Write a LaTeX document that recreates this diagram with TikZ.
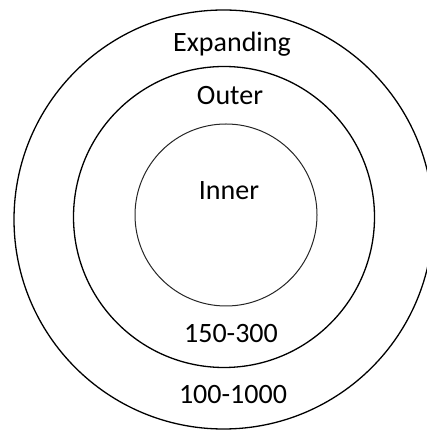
\documentclass[tikz,border=0pt]{standalone}
\usepackage{fontspec}
\setmainfont{Carlito}
\usetikzlibrary{positioning}

\begin{document}
\begin{tikzpicture}[x=1pt, y=1pt]
    \tikzset{
        ringstyle/.style={draw, circle, inner sep=0pt, line width=1.3pt},
        labelstyle/.style={anchor=base, inner sep=0pt, font=\fontsize{28}{34}\selectfont}
    }
    \useasboundingbox (0,0) rectangle (426,430);

    % rings
    \node[ringstyle, minimum size=419pt] (expanding) at (223.5,210.5) {};
    \node[ringstyle, minimum size=301pt] (outer) at (224,213) {};
    \node[ringstyle, line width=1pt, draw=black!85, minimum size=182pt] (inner) at (226,215) {};

    % labels
    \node[labelstyle] (expandname) at (232,378) {Expanding};
    \node[labelstyle] (outername) at (230,325) {Outer};
    \node[labelstyle] (innername) at (229,230) {Inner};
    \node[labelstyle] (outerrange) at (231,87) {150-300};
    \node[labelstyle] (expandrange) at (233,26) {100-1000};

\end{tikzpicture}
\end{document}
